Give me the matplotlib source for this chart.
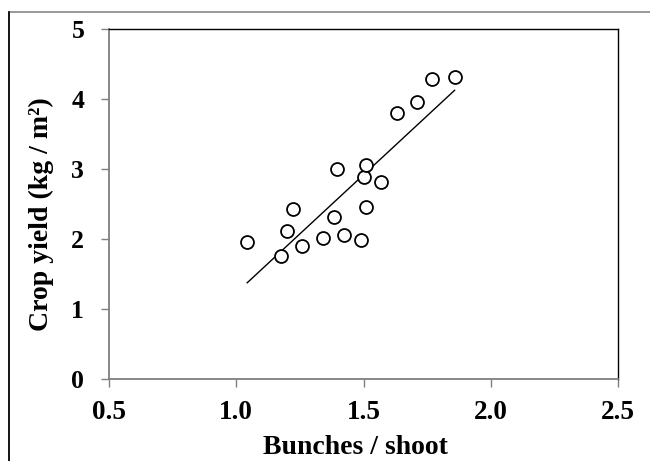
import numpy as np
import matplotlib
matplotlib.use("Agg")
import matplotlib.pyplot as plt
from matplotlib.patches import Rectangle

# data
bunches = [1.043, 1.176, 1.198, 1.224, 1.258, 1.342, 1.385, 1.396, 1.422,
           1.490, 1.509, 1.502, 1.510, 1.568, 1.631, 1.709, 1.769, 1.858]
yield_kg = [1.96, 1.75, 2.12, 2.43, 1.90, 2.01, 2.31, 3.00, 2.06,
            1.99, 2.45, 2.89, 3.06, 2.81, 3.80, 3.96, 4.28, 4.31]
x_ticks = [0.5, 1.0, 1.5, 2.0, 2.5]
y_ticks = [0, 1, 2, 3, 4, 5]

plt.rcParams['font.family'] = ['Liberation Serif', 'DejaVu Serif']
plt.rcParams['font.weight'] = 'bold'

fig = plt.figure(figsize=(6.5, 4.61), dpi=100)
ax = fig.add_axes([0.1677, 0.1779, 0.7831, 0.7592])

# outer chart border (cropped excel style)
fig.patches.append(Rectangle((9 / 650, -0.1), 1.2, (461 - 12) / 461 + 0.1,
                             transform=fig.transFigure, fill=False,
                             edgecolor='#888888', linewidth=1.2))
fig.lines.append(plt.Line2D([9 / 650, 9 / 650], [0, (461 - 12) / 461],
                            transform=fig.transFigure, color='black', linewidth=1.2))

ax.plot(bunches, yield_kg, 'o', markersize=9.3, markerfacecolor='white',
        markeredgecolor='black', markeredgewidth=1.3, zorder=3)

# linear trend line
k, b = np.polyfit(bunches, yield_kg, 1)
xs = np.array([min(bunches), max(bunches)])
ax.plot(xs, k * xs + b, color='black', linewidth=1.0, zorder=2)

ax.set_xlim(0.5, 2.5)
ax.set_ylim(0, 5)
ax.set_xticks(x_ticks)
ax.set_xticklabels(['%.1f' % v for v in x_ticks])
ax.set_yticks(y_ticks)

for s in ['left', 'bottom']:
    ax.spines[s].set_color('#7f7f7f')
    ax.spines[s].set_linewidth(1.3)
for s in ['top', 'right']:
    ax.spines[s].set_color('black')
    ax.spines[s].set_linewidth(1.0)

ax.tick_params(axis='both', direction='out', length=5.8, width=1, color='#7f7f7f')
ax.tick_params(axis='y', pad=12, labelsize=18.5)
ax.tick_params(axis='x', pad=9, labelsize=19.5)

ax.set_xlabel('Bunches / shoot', fontsize=20, fontweight='bold')
ax.xaxis.set_label_coords(0.485, -0.16)
ax.set_ylabel('Crop yield (kg / m²)', fontsize=20, fontweight='bold')
ax.yaxis.set_label_coords(-0.108, 0.47)

fig.savefig('out.png', dpi=100)
